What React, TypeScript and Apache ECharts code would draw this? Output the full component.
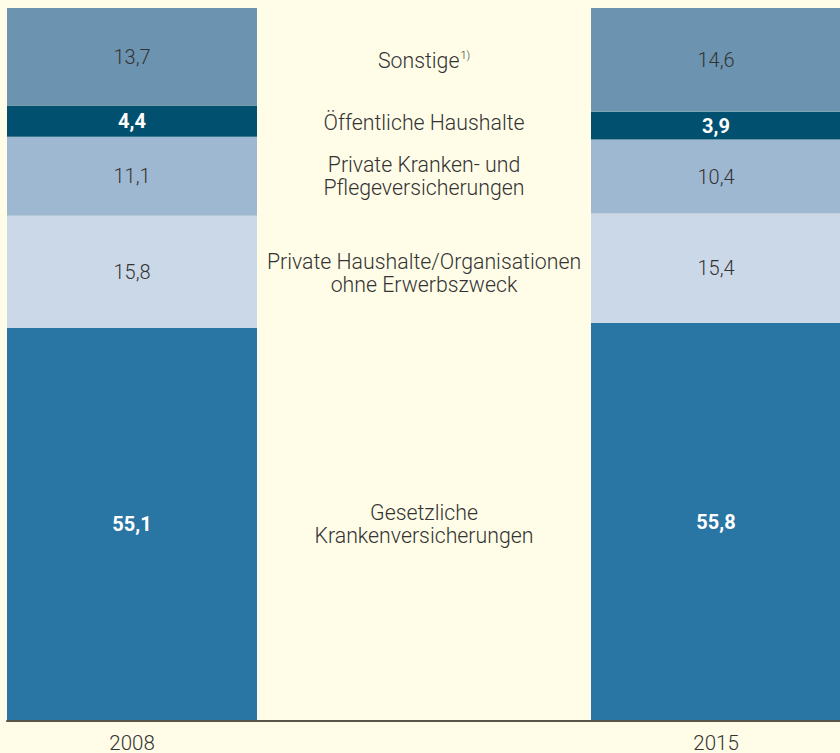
import React, { useEffect, useRef } from "react";
import * as echarts from "echarts";

const years = ["2008", "", "2015"];
const gesetzliche = [55.1, null, 55.8];
const privateHaushalte = [15.8, null, 15.4];
const privateKranken = [11.1, null, 10.4];
const oeffentliche = [4.4, null, 3.9];
const sonstige = [13.7, null, 14.6];

const FONT = "Roboto, 'Liberation Sans', sans-serif";
const TXT = "#333333";
const MID_SIZE = 21.3;

const fmt = (p: any) => (p.value == null ? "" : Number(p.value).toFixed(1).replace(".", ","));

function mk(name: string, data: (number | null)[], color: string, bold: boolean) {
  return {
    name,
    type: "bar",
    stack: "total",
    barWidth: 250,
    data,
    xAxisIndex: 0,
    yAxisIndex: 0,
    itemStyle: { color },
    emphasis: { disabled: true },
    label: {
      show: true,
      position: "inside",
      formatter: fmt,
      fontFamily: FONT,
      fontSize: 20,
      fontWeight: bold ? "bold" : 300,
      color: bold ? "#ffffff" : TXT,
    },
  };
}

export default function App() {
  const ref = useRef<HTMLDivElement>(null);
  useEffect(() => {
    if (!ref.current) return;
    const chart = echarts.init(ref.current, null, { renderer: "svg" });
    const ox = 30; // container offset
    const cx = 424 + ox;
    const midText = (lines: string, y: number) => ({
      type: "text",
      x: cx,
      y,
      style: {
        text: lines,
        fill: TXT,
        fontFamily: FONT,
        fontSize: MID_SIZE,
        fontWeight: 300,
        lineHeight: 23,
        align: "center",
        verticalAlign: "middle",
      },
    });
    chart.setOption({
      animation: false,
      backgroundColor: "#fffde8",
      grid: [
        { left: 16, right: 8, top: 8, bottom: 33 },
        { left: 7 + ox, right: 30, top: 8, bottom: 32 },
      ],
      xAxis: [
        {
          type: "category",
          gridIndex: 0,
          data: years,
          axisLine: { show: false },
          axisTick: { show: false },
          axisLabel: { fontFamily: FONT, fontSize: 20.5, fontWeight: 300, color: TXT, margin: 12 },
        },
        {
          type: "value",
          gridIndex: 1,
          min: 0,
          max: 1,
          axisLine: { show: true, onZero: false, lineStyle: { color: "#575548", width: 2 } },
          axisTick: { show: false },
          axisLabel: { show: false },
          splitLine: { show: false },
          z: 10,
        },
      ],
      yAxis: [
        { type: "value", gridIndex: 0, min: 0, max: 100.1, show: false, splitLine: { show: false } },
        { type: "value", gridIndex: 1, min: 0, max: 1, show: false, splitLine: { show: false } },
      ],
      series: [
        mk("Gesetzliche Krankenversicherungen", gesetzliche, "#2975a3", true),
        mk("Private Haushalte/Organisationen ohne Erwerbszweck", privateHaushalte, "#cbd8e8", false),
        mk("Private Kranken- und Pflegeversicherungen", privateKranken, "#9fb8d2", false),
        mk("Öffentliche Haushalte", oeffentliche, "#01506f", true),
        mk("Sonstige", sonstige, "#6c94b1", false),
      ],
      graphic: [
        {
          type: "text",
          x: cx,
          y: 60,
          style: {
            text: "{a|Sonstige}{s|1)}",
            align: "center",
            verticalAlign: "middle",
            rich: {
              a: { fontFamily: FONT, fontSize: MID_SIZE, fontWeight: 300, fill: TXT, color: TXT },
              s: { fontFamily: FONT, fontSize: 11, fontWeight: 300, fill: TXT, color: TXT, verticalAlign: "top", padding: [0, 0, 10, 1] },
            },
          },
        },
        midText("Öffentliche Haushalte", 122),
        midText("Private Kranken- und\nPflegeversicherungen", 175.5),
        midText("Private Haushalte/Organisationen\nohne Erwerbszweck", 272.5),
        midText("Gesetzliche\nKrankenversicherungen", 524),
      ],
    });
    return () => chart.dispose();
  }, []);
  return (
    <div
      ref={ref}
      style={{ position: "fixed", left: -30, top: 0, width: 900, height: 753 }}
    />
  );
}
